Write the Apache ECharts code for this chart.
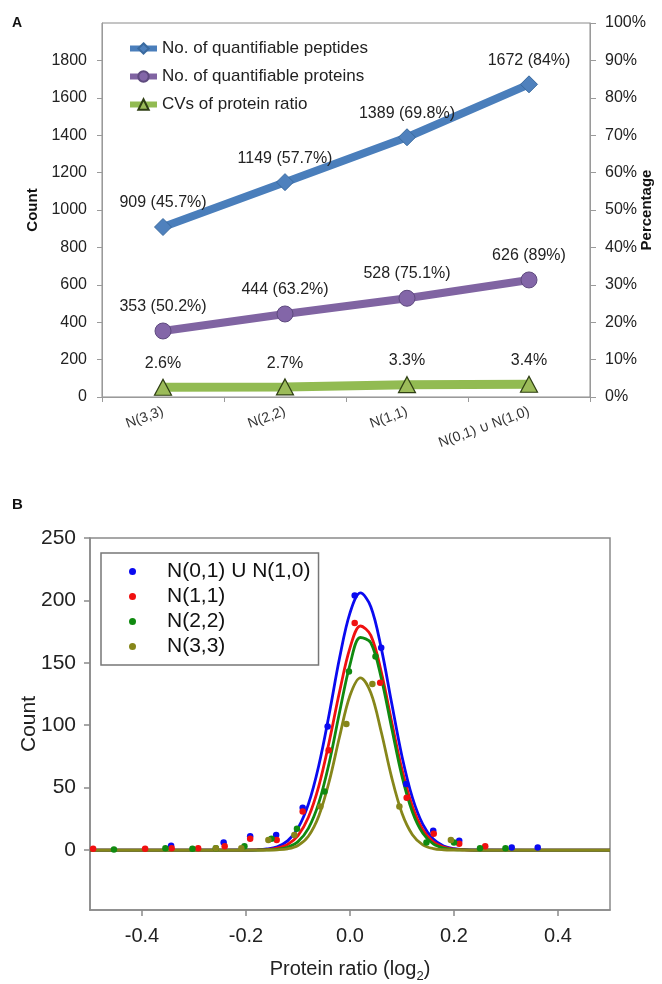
<!DOCTYPE html>
<html><head><meta charset="utf-8">
<script src="https://cdn.jsdelivr.net/npm/echarts@6/dist/echarts.min.js"></script>
<style>html,body{margin:0;padding:0;background:#fff}#c{width:662px;height:984px}</style>
</head><body><div id="c"></div>
<script>
// ---------- Panel A data ----------
const categoriesA = ['N(3,3)', 'N(2,2)', 'N(1,1)', 'N(0,1) \u222A N(1,0)'];
const peptides = [909, 1149, 1389, 1672];
const peptidePct = [45.7, 57.7, 69.8, 84];
const proteins = [353, 444, 528, 626];
const proteinPct = [50.2, 63.2, 75.1, 89];
const cvs = [2.6, 2.7, 3.3, 3.4];
const countTicksA = [0, 200, 400, 600, 800, 1000, 1200, 1400, 1600, 1800];
const namesA = ['No. of quantifiable peptides', 'No. of quantifiable proteins', 'CVs of protein ratio'];

// ---------- Panel B data ----------
const namesB = ['N(0,1) U N(1,0)', 'N(1,1)', 'N(2,2)', 'N(3,3)'];
const xTicksB = [-0.4, -0.2, 0, 0.2, 0.4];
const yTicksB = [0, 50, 100, 150, 200, 250];
const curveX = [-0.5, -0.2, -0.18, -0.16, -0.14, -0.12, -0.1, -0.08, -0.06, -0.04, -0.02, 0, 0.02, 0.04, 0.06, 0.08, 0.1, 0.12, 0.14, 0.16, 0.18, 0.2, 0.22, 0.24, 0.5];
const fitBlue  = [0, 0.06, 0.24, 0.9, 2.7, 7.4, 17.6, 36.8, 67.8, 109, 154, 190, 206, 195, 162, 118, 75, 42, 20.6, 8.8, 3.3, 1.1, 0.3, 0.07, 0];
const fitRed   = [0, 0.02, 0.11, 0.43, 1.5, 4.5, 11.6, 26.3, 51.3, 86.8, 127, 162, 179.5, 172, 143, 103, 64.4, 34.9, 16.3, 6.7, 2.4, 0.7, 0.2, 0.04, 0];
const fitGreen = [0, 0, 0.03, 0.16, 0.65, 2.3, 6.8, 17.4, 37.8, 70, 110.6, 148.6, 170.3, 166, 138, 98, 59, 30.5, 13.4, 5, 1.6, 0.43, 0.1, 0.02, 0];
const fitOlive = [0, 0, 0, 0.04, 0.23, 1.0, 3.7, 11.1, 27.3, 55, 91, 123.8, 138, 126, 94.8, 58.4, 29.5, 12.3, 4.2, 1.2, 0.27, 0.05, 0, 0, 0];
const ptsBlue  = [[-0.344, 3.5], [-0.243, 6], [-0.192, 11], [-0.142, 12], [-0.091, 34], [-0.043, 99], [0.009, 204], [0.06, 162], [0.108, 53], [0.16, 15.5], [0.21, 7.5], [0.311, 2], [0.361, 2]];
const ptsRed   = [[-0.494, 1], [-0.394, 1], [-0.343, 1.5], [-0.292, 1.5], [-0.241, 3], [-0.192, 9], [-0.141, 8], [-0.091, 31], [-0.041, 80], [0.009, 182], [0.058, 134], [0.109, 42], [0.161, 13], [0.21, 5], [0.26, 3]];
const ptsGreen = [[-0.454, 0.5], [-0.355, 1.5], [-0.303, 1], [-0.258, 1.5], [-0.203, 3], [-0.151, 9], [-0.102, 17], [-0.049, 47], [-0.002, 143], [0.049, 155], [0.147, 6], [0.2, 6], [0.25, 1.5], [0.299, 1.5]];
const ptsOlive = [[-0.258, 1.5], [-0.209, 1.5], [-0.157, 8], [-0.107, 12], [-0.057, 35], [-0.007, 101], [0.043, 133], [0.095, 35], [0.194, 8]];

const FONT = '"Liberation Sans", Arial, sans-serif';
const colorsB = ['#0a0af0', '#f01010', '#108a10', '#86861a'];
const fitsB = [fitBlue, fitRed, fitGreen, fitOlive];
const ptsB = [ptsBlue, ptsRed, ptsGreen, ptsOlive];

const series = [
  { type: 'line', name: namesA[0], xAxisIndex: 0, yAxisIndex: 0, data: peptides,
    symbol: 'diamond', symbolSize: 17, lineStyle: { width: 8, color: '#4A7EBB' },
    itemStyle: { color: '#4F81BD', borderColor: '#3A6A9F', borderWidth: 1 },
    label: { show: true, position: 'top', distance: 7, fontSize: 16, color: '#222', fontFamily: FONT,
      formatter: p => p.value + ' (' + peptidePct[p.dataIndex] + '%)' } },
  { type: 'line', name: namesA[1], xAxisIndex: 0, yAxisIndex: 0, data: proteins,
    symbol: 'circle', symbolSize: 16, lineStyle: { width: 8, color: '#8064A2' },
    itemStyle: { color: '#8366A8', borderColor: '#5E4A7E', borderWidth: 1 },
    label: { show: true, position: 'top', distance: 8, fontSize: 16, color: '#222', fontFamily: FONT,
      formatter: p => p.value + ' (' + proteinPct[p.dataIndex] + '%)' } },
  { type: 'line', name: namesA[2], xAxisIndex: 0, yAxisIndex: 1, data: cvs,
    symbol: 'triangle', symbolSize: [17, 16], lineStyle: { width: 9, color: '#92BB52' },
    itemStyle: { color: '#9BBB59', borderColor: '#2F3F14', borderWidth: 1.2 },
    label: { show: true, position: 'top', distance: 7, fontSize: 16, color: '#222', fontFamily: FONT,
      formatter: p => p.value + '%' } }
];
for (let i = 0; i < 4; i++) {
  series.push({ type: 'line', name: 'fit ' + namesB[i], xAxisIndex: 1, yAxisIndex: 2,
    data: curveX.map((x, k) => [x, fitsB[i][k]]), showSymbol: false, smooth: 0.35,
    lineStyle: { width: 2.8, color: colorsB[i] }, itemStyle: { color: colorsB[i] } });
}
for (let i = 0; i < 4; i++) {
  series.push({ type: 'scatter', name: namesB[i], xAxisIndex: 1, yAxisIndex: 2,
    data: ptsB[i], symbol: 'circle', symbolSize: 6.5, z: 5, itemStyle: { color: colorsB[i], opacity: 1 } });
}

const option = {
  animation: false,
  textStyle: { fontFamily: FONT },
  title: [
    { text: 'A', left: 12, top: 16, padding: 0, textStyle: { fontSize: 14, fontWeight: 'bold', color: '#111', fontFamily: FONT } },
    { text: 'B', left: 12, top: 497, padding: 0, textStyle: { fontSize: 15, fontWeight: 'bold', color: '#111', fontFamily: FONT } }
  ],
  grid: [
    { left: 102, top: 23, width: 488, height: 374, show: true, borderColor: '#8a8a8a', borderWidth: 1, containLabel: false, outerBoundsMode: 'none' },
    { left: 90, top: 538, width: 520, height: 372, show: true, borderColor: '#8a8a8a', borderWidth: 1.5, containLabel: false, outerBoundsMode: 'none' }
  ],
  legend: [
    { data: namesA, orient: 'vertical', left: 122, top: 35, itemWidth: 27, itemHeight: 13, itemGap: 11,
      lineStyle: { width: 6 },
      textStyle: { fontSize: 17, color: '#222', fontFamily: FONT } },
    { data: namesB, orient: 'vertical', left: 101, top: 553, icon: 'circle', itemWidth: 7, itemHeight: 7, itemGap: 4,
      borderColor: '#777', borderWidth: 1.5, padding: [8, 8, 8, 28],
      formatter: n => '{g|}' + n,
      itemStyle: { opacity: 1 },
      textStyle: { fontSize: 21, color: '#111', fontFamily: FONT, rich: { g: { width: 26 } } } }
  ],
  xAxis: [
    { type: 'category', gridIndex: 0, data: categoriesA, boundaryGap: true,
      axisLine: { lineStyle: { color: '#9a9a9a' } },
      axisTick: { show: true, length: 5, lineStyle: { color: '#9a9a9a' } },
      axisLabel: { rotate: 20, fontSize: 14, color: '#333', margin: 14, fontFamily: FONT } },
    { type: 'value', gridIndex: 1, min: -0.5, max: 0.5, splitLine: { show: false },
      axisLine: { onZero: false, lineStyle: { color: '#8a8a8a', width: 1.5 } },
      axisTick: { customValues: xTicksB, length: 6, lineStyle: { color: '#8a8a8a', width: 1.5 } },
      axisLabel: { customValues: xTicksB, formatter: v => Number(v).toFixed(1), fontSize: 20, color: '#222', margin: 16, fontFamily: FONT },
      name: 'Protein ratio (log{s|2})', nameLocation: 'middle', nameGap: 46, nameMoveOverlap: false,
      nameTextStyle: { fontSize: 20, color: '#222', fontFamily: FONT,
        rich: { s: { fontSize: 13, padding: [14, 0, 0, 0], fontFamily: FONT, color: '#222' } } } }
  ],
  yAxis: [
    { type: 'value', gridIndex: 0, min: 0, max: 2000, splitLine: { show: false },
      axisLine: { show: true, lineStyle: { color: '#9a9a9a' } },
      axisTick: { show: true, customValues: countTicksA, length: 5, lineStyle: { color: '#9a9a9a' } },
      axisLabel: { customValues: countTicksA, formatter: v => String(v), fontSize: 16, color: '#222', margin: 15, fontFamily: FONT },
      name: 'Count', nameLocation: 'middle', nameGap: 62, nameMoveOverlap: false,
      nameTextStyle: { fontSize: 15, fontWeight: 'bold', color: '#111', fontFamily: FONT } },
    { type: 'value', gridIndex: 0, position: 'right', min: 0, max: 100, interval: 10, splitLine: { show: false },
      axisLine: { show: true, lineStyle: { color: '#9a9a9a' } },
      axisTick: { show: true, length: 6, lineStyle: { color: '#9a9a9a' } },
      axisLabel: { formatter: '{value}%', fontSize: 16, color: '#222', margin: 15, fontFamily: FONT },
      name: 'Percentage', nameLocation: 'middle', nameGap: 49, nameMoveOverlap: false,
      nameTextStyle: { fontSize: 15, fontWeight: 'bold', color: '#111', fontFamily: FONT } },
    { type: 'value', gridIndex: 1, min: -48, max: 250, splitLine: { show: false },
      axisLine: { show: true, onZero: false, lineStyle: { color: '#8a8a8a', width: 1.5 } },
      axisTick: { show: true, customValues: yTicksB, length: 6, lineStyle: { color: '#8a8a8a', width: 1.5 } },
      axisLabel: { customValues: yTicksB, fontSize: 21, color: '#222', margin: 14, fontFamily: FONT },
      name: 'Count', nameLocation: 'middle', nameGap: 50, nameMoveOverlap: false,
      nameTextStyle: { fontSize: 21, color: '#222', fontFamily: FONT } }
  ],
  series: series
};
const chart = echarts.init(document.getElementById('c'), null, { renderer: 'canvas' });
chart.setOption(option);
</script>
</body></html>
